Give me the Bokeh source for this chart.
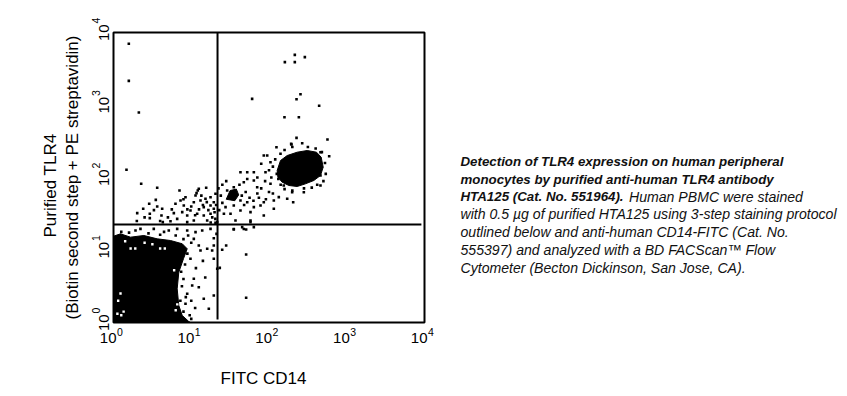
import math
from bokeh.plotting import figure
from bokeh.models import Range1d, ColumnDataSource, LabelSet, Label
from bokeh.core.properties import value
from bokeh.embed import file_html
from bokeh.resources import INLINE

# ---------------- data (values in decades, i.e. log10 of fluorescence) ----------------
decade_ticks = [0, 1, 2, 3, 4]
tick_base = ["10", "10", "10", "10", "10"]
tick_exp = ["0", "1", "2", "3", "4"]

x_title = "FITC CD14"
y_title_1 = "Purified TLR4"
y_title_2 = "(Biotin second step + PE streptavidin)"

# quadrant gates (decades) and their extents
gate_fitc = 1.338
gate_tlr4 = 1.352
gate_fitc_span = [0.04, 4.0]   # vertical gate runs over these TLR4 decades
gate_tlr4_span = [0.0, 3.96]   # horizontal gate runs over these FITC decades

# dense lymphocyte population (outline of solid region)
lymph_fitc = [0.0, 0.09, 0.219, 0.39, 0.562, 0.733, 0.884, 0.948, 0.90, 0.840, 0.819, 0.840, 0.884, 0.968, 0.99, 0.0]
lymph_tlr4 = [1.19, 1.223, 1.177, 1.2, 1.154, 1.131, 1.086, 1.017, 0.879, 0.694, 0.465, 0.234, 0.097, 0.014, 0.0, 0.0]

# dense monocyte population (outline of solid region)
mono_fitc = [2.105, 2.148, 2.234, 2.362, 2.491, 2.611, 2.671, 2.697, 2.662, 2.577, 2.469, 2.362, 2.255, 2.169, 2.114]
mono_tlr4 = [2.097, 2.234, 2.303, 2.349, 2.372, 2.349, 2.280, 2.143, 2.028, 1.959, 1.913, 1.876, 1.890, 1.936, 2.005]

# small dense clump on the diagonal band
clump_fitc = [1.45, 1.50, 1.58, 1.61, 1.56]
clump_tlr4 = [1.70, 1.82, 1.84, 1.76, 1.68]

# individual events
fitc_events = [
    0.197, 0.197, 0.326, 0.167, 0.356, 0.562, 0.849, 1.192, 1.068, 1.084, 0.926, 0.544, 0.459, 0.382, 0.305,
    0.562, 0.626, 0.467, 0.467, 0.617, 0.634, 0.733, 0.776, 0.797, 0.862, 0.904, 0.884, 0.948, 0.819, 0.99,
    1.033, 1.119, 1.183, 1.248, 1.161, 1.248, 1.29, 1.076, 1.161, 1.248, 1.205, 1.033, 0.948, 1.312, 1.29,
    1.334, 1.097, 1.055, 1.22, 1.27, 1.30, 1.15, 1.10, 1.32, 1.25, 1.31, 1.20, 1.00, 0.70, 0.90, 0.60, 0.52,
    0.40, 0.30, 0.75, 1.13, 0.95, 1.05,
    2.204, 2.332, 2.332, 2.461, 1.783, 2.354, 2.405, 2.645, 2.199, 2.384, 2.354, 2.752, 2.774, 2.096, 2.285,
    2.662, 2.289, 2.427, 2.148, 1.933, 1.977, 1.90, 2.019, 1.955, 1.805, 1.72, 1.633, 1.805, 1.676, 1.547,
    1.462, 1.848, 2.019, 2.19, 2.298, 2.448, 2.662, 2.662, 2.126, 2.062, 1.933, 1.891, 1.805, 1.72, 1.633,
    1.547, 1.441, 1.505, 1.633, 1.762, 1.933, 2.062, 2.234, 2.311, 1.762, 1.569, 1.762,
    2.05, 2.08, 2.12, 2.20, 2.30, 2.50, 2.60, 2.68, 2.72, 2.73, 2.70, 2.62, 2.55, 2.45, 2.30, 2.20, 2.15,
    2.10, 2.03, 2.00,
    1.40, 1.38, 1.42, 1.36, 1.65, 1.70, 1.75, 1.85, 1.90, 1.95, 2.00, 1.68, 1.80, 1.87, 1.96, 2.05, 1.62,
    1.72, 1.85, 1.40, 1.45, 1.35,
    1.547, 1.655, 1.706, 1.805, 1.449, 1.398, 1.706, 1.706, 1.367, 1.29, 1.29, 1.29, 1.29, 1.325, 1.312,
    1.547, 1.676,
    0.283, 0.347, 0.518, 0.711, 0.819, 0.948, 1.055, 1.141, 1.248, 1.033, 1.097, 1.205, 1.119, 0.99, 1.033,
    1.097, 1.161, 1.226, 0.948, 0.926, 1.012, 1.334, 1.269,
    0.95, 0.92, 0.90, 0.88, 0.93, 0.90, 0.98, 1.00, 0.10, 0.20, 0.45, 0.60, 0.65, 0.80, 0.90, 1.00, 0.96,
    1.06, 1.15, 1.18, 1.00, 1.05, 0.92, 0.87, 0.86,
]
tlr4_events = [
    3.844, 3.333, 2.897, 2.106, 1.913, 1.858, 1.821, 1.858, 1.784, 1.821, 1.728, 1.692, 1.637, 1.568, 1.508,
    1.60, 1.568, 1.499, 1.439, 1.476, 1.384, 1.397, 1.508, 1.637, 1.683, 1.614, 1.522, 1.476, 1.43, 1.545,
    1.659, 1.683, 1.706, 1.728, 1.591, 1.614, 1.659, 1.499, 1.476, 1.499, 1.407, 1.407, 1.384, 1.775, 1.568,
    1.384, 1.844, 1.752, 1.55, 1.45, 1.52, 1.62, 1.56, 1.62, 1.38, 1.43, 1.66, 1.60, 1.45, 1.70, 1.40, 1.55,
    1.45, 1.40, 1.56, 1.75, 1.56, 1.48,
    3.591, 3.591, 3.692, 3.660, 3.085, 3.080, 3.149, 2.989, 2.832, 2.832, 2.547, 2.524, 2.294, 2.418, 2.464,
    2.349, 2.455, 2.473, 2.327, 2.303, 2.303, 2.189, 2.211, 2.073, 2.073, 2.073, 2.073, 1.959, 1.935, 1.866,
    1.821, 1.866, 1.913, 1.89, 1.797, 1.797, 1.89, 2.028, 1.729, 1.683, 1.659, 1.614, 1.591, 1.659, 1.683,
    1.614, 1.591, 1.499, 1.545, 1.522, 1.476, 1.568, 1.706, 1.659, 1.407, 1.407, 1.384,
    2.15, 2.25, 1.98, 2.38, 2.42, 2.42, 2.40, 2.35, 2.20, 2.05, 1.95, 1.90, 1.86, 1.85, 1.82, 1.84, 1.90,
    2.05, 2.00, 2.10,
    1.65, 1.75, 1.50, 1.55, 1.75, 1.80, 1.72, 1.78, 1.85, 1.95, 1.80, 1.62, 1.68, 1.72, 1.70, 1.78, 1.90,
    1.98, 2.00, 1.90, 1.95, 1.85,
    1.283, 1.315, 1.283, 1.315, 1.062, 1.003, 0.938, 0.341, 0.754, 1.163, 1.062, 0.879, 0.372, 1.223, 1.375,
    1.29, 1.29,
    1.269, 1.292, 1.292, 1.269, 1.292, 1.269, 1.246, 1.269, 1.292, 1.154, 1.062, 1.017, 0.993, 0.879, 0.603,
    0.487, 0.327, 0.189, 0.396, 0.258, 0.51, 0.741, 0.993,
    0.95, 0.80, 0.60, 0.50, 0.35, 0.15, 0.10, 0.05, 1.25, 1.24, 1.23, 1.21, 1.25, 1.20, 1.15, 1.10, 1.20,
    0.75, 0.85, 0.62, 0.30, 0.20, 1.00, 0.70, 0.30,
]

# empty specks inside the dense lymphocyte population
hole_fitc = [0.09, 0.06, 0.05, 0.10, 0.13, 0.22, 0.28, 0.60, 0.66, 0.78, 0.80, 0.82, 0.40, 0.50, 0.15]
hole_tlr4 = [0.40, 0.30, 0.12, 0.10, 0.15, 1.02, 1.02, 1.02, 1.02, 0.72, 0.17, 0.25, 1.10, 1.08, 1.12]

caption_bold = [
    "Detection of TLR4 expression on human peripheral",
    "monocytes by purified anti-human TLR4 antibody",
    "HTA125 (Cat. No. 551964).",
]
caption_rest_line3 = "Human PBMC were stained"
caption_plain = [
    "with 0.5 \u00b5g of purified HTA125 using 3-step staining protocol",
    "outlined below and anti-human CD14-FITC (Cat. No.",
    "555397) and analyzed with a BD FACScan\u2122 Flow",
    "Cytometer (Becton Dickinson, San Jose, CA).",
]

# ---------------- layout (pixels) ----------------
FONT = "Liberation Sans"
W, H = 839, 388
PLOT_L, PLOT_R, PLOT_T, PLOT_B = 113, 424, 32, 322   # data square inside the canvas
D0, D1 = decade_ticks[0], decade_ticks[-1]
px_x = (PLOT_R - PLOT_L) / (D1 - D0)
px_y = (PLOT_B - PLOT_T) / (D1 - D0)
x_rng = Range1d(D0 - PLOT_L / px_x, D1 + (W - PLOT_R) / px_x)
y_rng = Range1d(D0 - (H - PLOT_B) / px_y, D1 + PLOT_T / px_y)

p = figure(width=W, height=H, x_range=x_rng, y_range=y_rng,
           x_axis_location=None, y_axis_location=None,
           min_border=0, toolbar_location=None, output_backend="svg")
p.grid.visible = False
p.background_fill_color = "white"
p.border_fill_color = "white"
p.outline_line_color = None

ink = "black"
p.patch(lymph_fitc, lymph_tlr4, fill_color=ink, line_color=ink, line_width=1)
p.patch(mono_fitc, mono_tlr4, fill_color=ink, line_color=ink, line_width=1)
p.patch(clump_fitc, clump_tlr4, fill_color=ink, line_color=ink, line_width=1)
p.scatter(fitc_events, tlr4_events, marker="square", size=2.6, fill_color=ink, line_color=None)
p.scatter(hole_fitc, hole_tlr4, marker="square", size=2.4, fill_color="white", line_color=None)

# quadrant gates
p.segment(x0=[gate_fitc], y0=[gate_fitc_span[0]], x1=[gate_fitc], y1=[gate_fitc_span[1]],
          line_color=ink, line_width=2)
p.segment(x0=[gate_tlr4_span[0]], y0=[gate_tlr4], x1=[gate_tlr4_span[1]], y1=[gate_tlr4],
          line_color=ink, line_width=2)

# plot frame
p.quad(left=[D0], right=[D1], bottom=[D0], top=[D1], fill_color=None, line_color=ink, line_width=2)

# ---------------- tick labels ----------------
tick_src = ColumnDataSource(dict(t=decade_ticks, base=tick_base, exp=tick_exp))
TICK_PX = "15px"
EXP_PX = "10.5px"
F = value(FONT)

p.add_layout(LabelSet(x="t", y=45.5, y_units="screen", text="base", source=tick_src,
                      x_offset=3, text_align="right", text_baseline="alphabetic",
                      text_font=F, text_font_size=value(TICK_PX), text_color=ink))
p.add_layout(LabelSet(x="t", y=52.1, y_units="screen", text="exp", source=tick_src,
                      x_offset=3.5, text_align="left", text_baseline="alphabetic",
                      text_font=F, text_font_size=value(EXP_PX), text_color=ink))

p.add_layout(LabelSet(x=108, x_units="screen", y="t", text="base", source=tick_src,
                      y_offset=-8.5, angle=math.pi / 2, text_align="left", text_baseline="alphabetic",
                      text_font=F, text_font_size=value(TICK_PX), text_color=ink))
p.add_layout(LabelSet(x=99.6, x_units="screen", y="t", text="exp", source=tick_src,
                      y_offset=9.0, angle=math.pi / 2, text_align="left", text_baseline="alphabetic",
                      text_font=F, text_font_size=value(EXP_PX), text_color=ink))

# ---------------- axis titles ----------------
TITLE_PX = "17px"
p.add_layout(Label(x=263, y=10.5, x_units="screen", y_units="screen", text=x_title,
                   text_align="center", text_baseline="alphabetic",
                   text_font=FONT, text_font_size=TITLE_PX, text_color=ink))
p.add_layout(Label(x=49.5, y=203, x_units="screen", y_units="screen", text=y_title_1,
                   angle=math.pi / 2, text_align="center", text_baseline="alphabetic",
                   text_font=FONT, text_font_size=TITLE_PX, text_color=ink))
p.add_layout(Label(x=71.5, y=211, x_units="screen", y_units="screen", text=y_title_2,
                   angle=math.pi / 2, text_align="center", text_baseline="alphabetic",
                   text_font=FONT, text_font_size=TITLE_PX, text_color=ink))

# ---------------- caption ----------------
CAP_BOLD_PX = "13.3px"
CAP_PX = "14.1px"
CAP_X = 460
CAP_Y0 = 227.2
CAP_DY = 17.7
lines = [(t, "bold italic", CAP_X, CAP_BOLD_PX) for t in caption_bold] + \
        [(caption_rest_line3, "italic", 628.5, CAP_PX)] + \
        [(t, "italic", CAP_X, CAP_PX) for t in caption_plain]
rows = [0, 1, 2, 2, 3, 4, 5, 6]
for (txt, style, x0, fs), r in zip(lines, rows):
    p.add_layout(Label(x=x0, y=CAP_Y0 - r * CAP_DY, x_units="screen", y_units="screen", text=txt,
                       text_align="left", text_baseline="alphabetic", text_font=FONT,
                       text_font_style=style, text_font_size=fs, text_color="#111111"))

open("out.html", "w").write(file_html(p, INLINE))
